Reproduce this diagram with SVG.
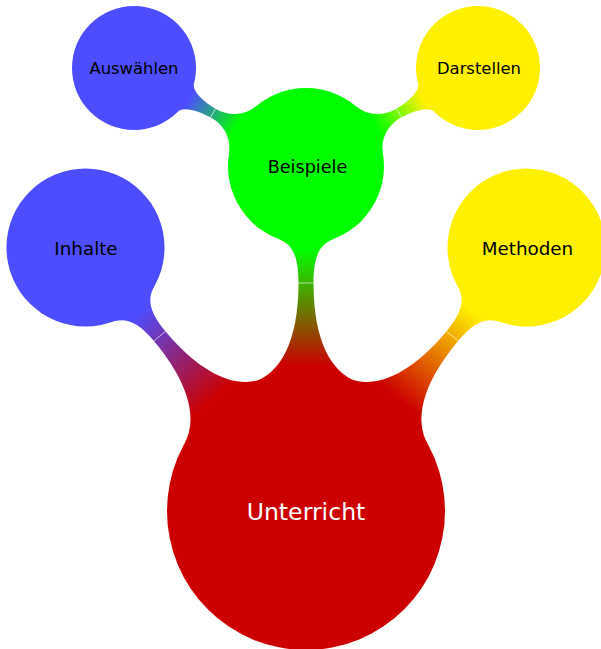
<svg xmlns="http://www.w3.org/2000/svg" width="601" height="649" viewBox="0 0 601 649">
<style>
.lbl{font-family:"DejaVu Sans","Liberation Sans",sans-serif;text-anchor:middle;fill:#000}
.seam{stroke:#fff;stroke-width:0.7;stroke-opacity:0.85;fill:none}
</style>
<defs>
<linearGradient id="gRG" gradientUnits="userSpaceOnUse" x1="145" y1="0" x2="262" y2="0"><stop offset="0" stop-color="#CC0000"/><stop offset="1" stop-color="#00FF00"/></linearGradient>
<linearGradient id="gRB" gradientUnits="userSpaceOnUse" x1="145" y1="0" x2="260" y2="0"><stop offset="0" stop-color="#CC0000"/><stop offset="1" stop-color="#4D4DFF"/></linearGradient>
<linearGradient id="gRY" gradientUnits="userSpaceOnUse" x1="145" y1="0" x2="260" y2="0"><stop offset="0" stop-color="#CC0000"/><stop offset="1" stop-color="#FFF000"/></linearGradient>
<linearGradient id="gGB" gradientUnits="userSpaceOnUse" x1="80" y1="0" x2="135" y2="0"><stop offset="0" stop-color="#00FF00"/><stop offset="1" stop-color="#4D4DFF"/></linearGradient>
<linearGradient id="gGY" gradientUnits="userSpaceOnUse" x1="80" y1="0" x2="135" y2="0"><stop offset="0" stop-color="#00FF00"/><stop offset="1" stop-color="#FFF000"/></linearGradient>
</defs>
<g id="connectors">
<g transform="translate(306,511) rotate(-90)">
<path fill="url(#gRG)" d="M129.8,49.8 C138.8,26.5 168,7.5 228,7.5 C256,7.5 266.8,14 272.2,28 L272.2,-28 C266.8,-14 256,-7.5 228,-7.5 C168,-7.5 138.8,-26.5 129.8,-49.8 Z"/>
<line class="seam" x1="228" y1="-7.5" x2="228" y2="7.5"/>
</g>
<g transform="translate(306,511) rotate(-129.93)">
<path fill="url(#gRB)" d="M129.8,49.8 C138.8,26.5 168,7.5 228,7.5 C254,7.5 264.5,14.3 269.9,28.3 L269.9,-28.3 C264.5,-14.3 254,-7.5 228,-7.5 C168,-7.5 138.8,-26.5 129.8,-49.8 Z"/>
<line class="seam" x1="228" y1="-7.5" x2="228" y2="7.5"/>
</g>
<g transform="translate(306,511) rotate(-50.07)">
<path fill="url(#gRY)" d="M129.8,49.8 C138.8,26.5 168,7.5 228,7.5 C254,7.5 264.5,14.3 269.9,28.3 L269.9,-28.3 C264.5,-14.3 254,-7.5 228,-7.5 C168,-7.5 138.8,-26.5 129.8,-49.8 Z"/>
<line class="seam" x1="228" y1="-7.5" x2="228" y2="7.5"/>
</g>
<g transform="translate(306,166) rotate(-150.32)">
<path fill="url(#gGB)" d="M73.3,26.7 C77.4,15.4 89,5 107,5 C119,5 136,8.3 138.1,16 L138.1,-16 C136,-8.3 119,-5 107,-5 C89,-5 77.4,-15.4 73.3,-26.7 Z"/>
<line class="seam" x1="107" y1="-5" x2="107" y2="5"/>
</g>
<g transform="translate(306,166) rotate(-29.68)">
<path fill="url(#gGY)" d="M73.3,26.7 C77.4,15.4 89,5 107,5 C119,5 136,8.3 138.1,16 L138.1,-16 C136,-8.3 119,-5 107,-5 C89,-5 77.4,-15.4 73.3,-26.7 Z"/>
<line class="seam" x1="107" y1="-5" x2="107" y2="5"/>
</g>
</g>
<g id="unterricht">
<circle cx="306" cy="511" r="139" fill="#CC0000"/>
<text class="lbl" x="306" y="519.5" font-size="23.6" style="fill:#fff">Unterricht</text>
</g>
<g id="inhalte">
<circle cx="85.5" cy="247.5" r="79" fill="#4D4DFF"/>
<text class="lbl" x="86" y="254.5" font-size="18.3">Inhalte</text>
</g>
<g id="methoden">
<circle cx="526.5" cy="247.5" r="79" fill="#FFF000"/>
<text class="lbl" x="527.5" y="254.5" font-size="18.3">Methoden</text>
</g>
<g id="beispiele">
<circle cx="306" cy="166" r="78" fill="#00FF00"/>
<text class="lbl" x="307.5" y="172.5" font-size="17.6">Beispiele</text>
</g>
<g id="auswaehlen">
<circle cx="134" cy="68" r="62" fill="#4D4DFF"/>
<text class="lbl" x="134" y="74" font-size="16.4">Auswählen</text>
</g>
<g id="darstellen">
<circle cx="478" cy="68" r="62" fill="#FFF000"/>
<text class="lbl" x="479" y="74" font-size="16.4">Darstellen</text>
</g>
</svg>
